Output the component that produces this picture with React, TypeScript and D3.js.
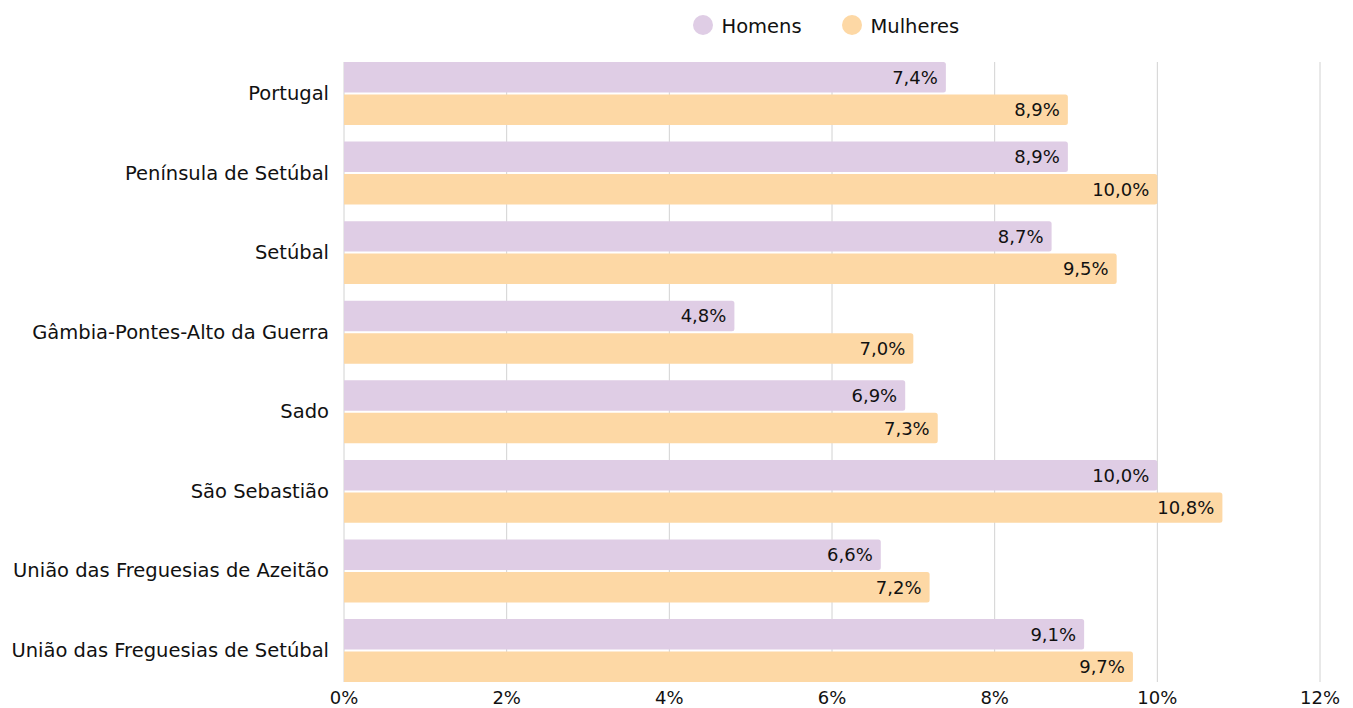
import React from "react";
import * as d3 from "d3";

const categories = [
  "Portugal",
  "Península de Setúbal",
  "Setúbal",
  "Gâmbia-Pontes-Alto da Guerra",
  "Sado",
  "São Sebastião",
  "União das Freguesias de Azeitão",
  "União das Freguesias de Setúbal",
];
const homens = [7.4, 8.9, 8.7, 4.8, 6.9, 10.0, 6.6, 9.1];
const mulheres = [8.9, 10.0, 9.5, 7.0, 7.3, 10.8, 7.2, 9.7];
const xTicks = [0, 2, 4, 6, 8, 10, 12];
const seriesNames = ["Homens", "Mulheres"];
const seriesColors = ["#dfcde5", "#fdd8a5"];

const W = 1353;
const H = 708;
const FONT = "'DejaVu Sans', sans-serif";

export default function App() {
  const x = d3.scaleLinear().domain([0, 12]).range([344, 1320]);
  const y = d3.scaleBand<string>().domain(categories).range([62, 682]).paddingInner(0.21).paddingOuter(0);
  const bw = y.bandwidth();
  const gap = 2;
  const bh = (bw - gap) / 2;
  const fmt = (v: number) => d3.format(".1f")(v).replace(".", ",") + "%";

  const barPath = (x0: number, x1: number, y0: number, h: number, r: number) => {
    const p = d3.path();
    p.moveTo(x0, y0);
    p.lineTo(x1 - r, y0);
    p.arcTo(x1, y0, x1, y0 + r, r);
    p.lineTo(x1, y0 + h - r);
    p.arcTo(x1, y0 + h, x1 - r, y0 + h, r);
    p.lineTo(x0, y0 + h);
    p.closePath();
    return p.toString();
  };

  const series = [homens, mulheres];

  return (
    <svg width={W} height={H} style={{ position: "absolute", left: 0, top: 0, background: "#fff" }} fontFamily={FONT}>
      {xTicks.map((t) => (
        <line key={"g" + t} x1={x(t)} x2={x(t)} y1={62} y2={682} stroke="#d2d2d2" strokeWidth={1} />
      ))}
      {xTicks.map((t) => (
        <text key={"t" + t} x={x(t)} y={704} textAnchor="middle" fontSize={18} fill="#111">
          {t + "%"}
        </text>
      ))}
      {categories.map((c, i) => (
        <g key={c}>
          {series.map((s, si) => {
            const y0 = (y(c) as number) + si * (bh + gap);
            return (
              <g key={si}>
                <path d={barPath(x(0), x(s[i]), y0, bh, 2.5)} fill={seriesColors[si]} />
                <text x={x(s[i]) - 8} y={y0 + bh / 2 + 6.5} textAnchor="end" fontSize={18} fill="#111">
                  {fmt(s[i])}
                </text>
              </g>
            );
          })}
          <text x={329} y={(y(c) as number) + bw / 2 + 6.5} textAnchor="end" fontSize={19.5} fill="#111">
            {c}
          </text>
        </g>
      ))}
      {seriesNames.map((n, i) => {
        const cx = [703, 852][i];
        return (
          <g key={n}>
            <circle cx={cx} cy={25} r={10} fill={seriesColors[i]} />
            <text x={cx + 18.5} y={32.5} fontSize={19.5} fill="#111">
              {n}
            </text>
          </g>
        );
      })}
    </svg>
  );
}
